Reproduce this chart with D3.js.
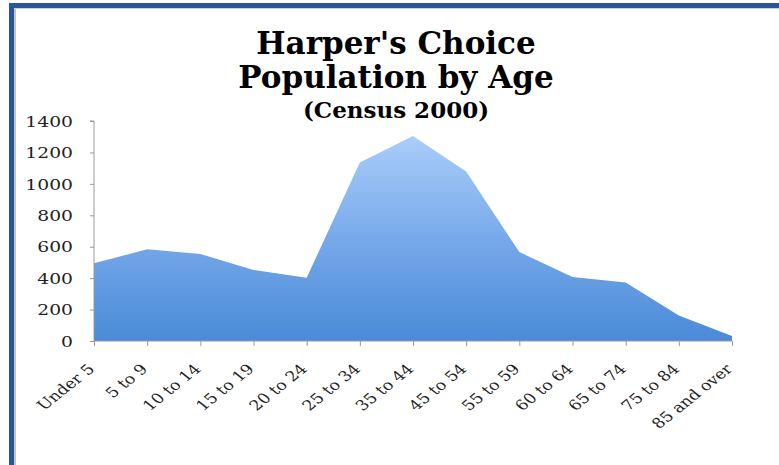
<!DOCTYPE html>
<html>
<head>
<meta charset="utf-8">
<script src="https://cdn.jsdelivr.net/npm/d3@7"></script>
<style>
  html, body { margin: 0; padding: 0; background: #fff; }
  svg { display: block; }
</style>
</head>
<body>
<script>
const categories = ["Under 5","5 to 9","10 to 14","15 to 19","20 to 24","25 to 34","35 to 44","45 to 54","55 to 59","60 to 64","65 to 74","75 to 84","85 and over"];
const population = [494, 584, 554, 452, 402, 1136, 1305, 1078, 566, 407, 373, 163, 32];
const yTicks = [0, 200, 400, 600, 800, 1000, 1200, 1400];
const titleLines = ["Harper's Choice", "Population by Age", "(Census 2000)"];

const W = 779, H = 465;
const svg = d3.select("body").append("svg").attr("width", W).attr("height", H);
svg.append("rect").attr("width", W).attr("height", H).attr("fill", "#fff");

// frame
svg.append("rect").attr("x", 9).attr("y", 3).attr("width", W - 9).attr("height", 5).attr("fill", "#2b5595");
svg.append("rect").attr("x", 9).attr("y", 3).attr("width", 5).attr("height", H - 3).attr("fill", "#2b5595");
svg.append("rect").attr("x", 14).attr("y", 8).attr("width", 2).attr("height", H - 8).attr("fill", "#c4c4c4");
svg.append("rect").attr("x", 14).attr("y", 8).attr("width", W - 14).attr("height", 1).attr("fill", "#d0d0d0");

const x = d3.scalePoint().domain(categories).range([94, 732]);
const y = d3.scaleLinear().domain([0, 1400]).range([341, 121]);

// gradient
const defs = svg.append("defs");
const grad = defs.append("linearGradient").attr("id", "areaGrad")
  .attr("gradientUnits", "userSpaceOnUse")
  .attr("x1", 0).attr("x2", 0).attr("y1", y(d3.max(population))).attr("y2", y(0));
grad.append("stop").attr("offset", "0%").attr("stop-color", "#aacdfb");
grad.append("stop").attr("offset", "55%").attr("stop-color", "#72a6e8");
grad.append("stop").attr("offset", "100%").attr("stop-color", "#4a8ad8");

const area = d3.area()
  .x((d, i) => x(categories[i]))
  .y0(y(0))
  .y1(d => y(d));
svg.append("path").datum(population).attr("d", area).attr("fill", "url(#areaGrad)");

const axisColor = "#9a9a9a";
const sx = 1.25;

// y axis
const yAxis = svg.append("g").attr("transform", "translate(94,0)")
  .call(d3.axisLeft(y).tickValues(yTicks).tickSize(4).tickPadding(0).tickFormat(d3.format("d")));
yAxis.select(".domain").attr("stroke", axisColor).attr("d", `M-4,${y(1400)}H0V${y(0)}`);
yAxis.selectAll(".tick line").attr("stroke", axisColor);
yAxis.selectAll(".tick text").remove();
yAxis.selectAll(".tick").append("text")
  .attr("transform", `translate(-21,0) scale(${sx},1)`)
  .attr("text-anchor", "end").attr("dy", "0.35em")
  .attr("fill", "#222")
  .style("font-family", "'DejaVu Serif'").style("font-size", "15px")
  .text(d => d);

// x axis
const xAxis = svg.append("g").attr("transform", `translate(0,${y(0)})`)
  .call(d3.axisBottom(x).tickSize(5).tickSizeOuter(0));
xAxis.select(".domain").attr("stroke", axisColor).attr("d", `M${x(categories[0])},0H${x(categories[categories.length-1])}`);
xAxis.selectAll(".tick line").attr("stroke", axisColor);
xAxis.selectAll(".tick text").remove();
xAxis.selectAll(".tick").append("text")
  .attr("transform", `translate(1,29) scale(${sx},1) rotate(-45)`)
  .attr("text-anchor", "end")
  .attr("fill", "#222")
  .style("font-family", "'DejaVu Serif'").style("font-size", "14px")
  .text(d => d);

// title
const titleSizes = [31, 31, 23];
const titleY = [54, 88, 118];
svg.append("g").selectAll("text").data(titleLines).join("text")
  .attr("x", 396).attr("y", (d, i) => titleY[i])
  .attr("text-anchor", "middle")
  .attr("fill", "#000")
  .style("font-family", "'DejaVu Serif'").style("font-weight", "bold")
  .style("font-size", (d, i) => titleSizes[i] + "px")
  .text(d => d);
</script>
</body>
</html>
